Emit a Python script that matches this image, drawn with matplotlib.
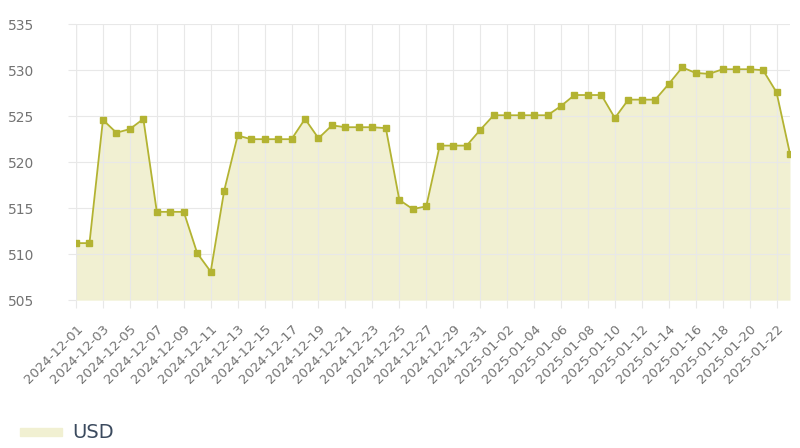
import matplotlib
matplotlib.use('Agg')
import matplotlib.pyplot as plt
import pandas as pd

# Daily USD values, 2024-12-01 .. 2025-01-23
dates = pd.date_range('2024-12-01', '2025-01-23', freq='D')
usd = [511.2, 511.2, 524.6, 523.2, 523.6, 524.7, 514.6, 514.6, 514.6, 510.1,
       508.1, 516.9, 522.9, 522.5, 522.5, 522.5, 522.5, 524.7, 522.6, 524.0,
       523.8, 523.8, 523.8, 523.7, 515.9, 514.9, 515.2, 521.8, 521.8, 521.8,
       523.5, 525.1, 525.1, 525.1, 525.1, 525.1, 526.1, 527.3, 527.3, 527.3,
       524.8, 526.8, 526.8, 526.8, 528.5, 530.3, 529.7, 529.6, 530.1, 530.1,
       530.1, 530.0, 527.6, 520.9]
labels = [d.strftime('%Y-%m-%d') for d in dates]
y_ticks = [505, 510, 515, 520, 525, 530, 535]

line_col = '#b3b332'
fill_col = '#f1f0d2'

fig = plt.figure(figsize=(8, 4.48), dpi=100)
ax = fig.add_axes([0.095, 0.33, 0.8925, 0.616])

x = list(range(len(usd)))
ax.fill_between(x, usd, 505, color=fill_col, lw=0, zorder=1)
ax.plot(x, usd, color=line_col, lw=1.3, marker='s', ms=5, zorder=3)

ax.set_xlim(0, len(usd) - 1)
ax.set_ylim(505, 535)
ax.set_yticks(y_ticks)
ax.set_xticks(x[::2])
ax.set_xticklabels(labels[::2], rotation=45, ha='right', rotation_mode='anchor')

ax.grid(True, color='#e8e8e8', lw=0.8, zorder=0)
for s in ax.spines.values():
    s.set_visible(False)
ax.axvline(0, color='#d9d9d9', lw=0.9, zorder=0)
ax.tick_params(axis='both', colors='#e8e8e8', labelcolor='#737373', labelsize=9.5)
ax.tick_params(axis='y', length=6, pad=24, labelsize=10)
ax.tick_params(axis='x', length=6, pad=10)

# legend
fig.patches.append(plt.Rectangle((20 / 800, (448 - 436) / 448), 42 / 800, 8 / 448,
                                 transform=fig.transFigure, color=fill_col, zorder=5))
fig.text(72 / 800, (448 - 432) / 448, 'USD', fontsize=14, color='#3b4a5e', va='center')

plt.savefig('out.png', dpi=100)
